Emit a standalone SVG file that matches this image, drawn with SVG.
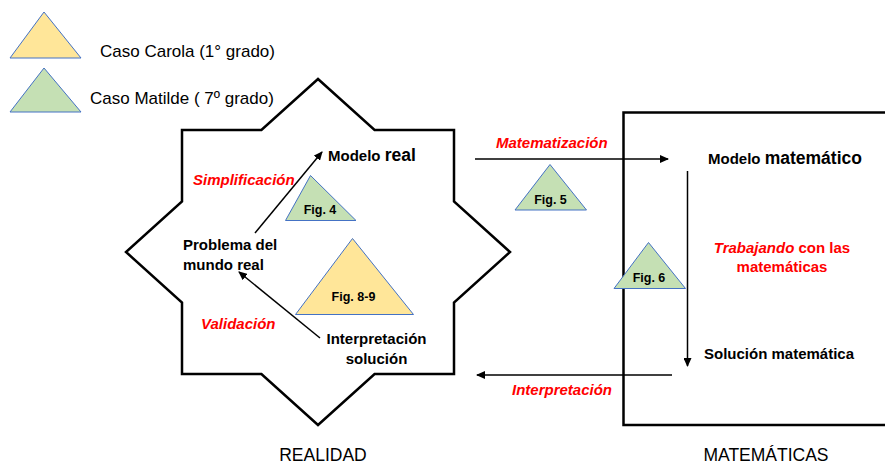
<svg xmlns="http://www.w3.org/2000/svg" width="885" height="464" viewBox="0 0 885 464">
  <style>
    text { font-family: "Liberation Sans", Arial, sans-serif; fill: #000; }
    .b { font-weight: bold; font-size: 15px; }
    .red { font-weight: bold; font-style: italic; font-size: 15px; fill: #FF0000; }
    .reg { font-size: 17.5px; }
    .leg { font-size: 17px; }
    .fig { font-weight: bold; font-size: 12.5px; text-anchor: middle; }
    .tri-y { fill: #FFE699; stroke: #4472C4; stroke-width: 1; }
    .tri-g { fill: #C5E0B4; stroke: #4472C4; stroke-width: 1; }
    .frame { fill: none; stroke: #000; stroke-width: 2.5; }
    .conn { fill: none; stroke: #000; stroke-width: 1.5; }
  </style>
  <defs>
    <marker id="arrow" markerUnits="userSpaceOnUse" markerWidth="9" markerHeight="8" refX="8" refY="4" orient="auto">
      <path d="M0,0 L9,4 L0,8 Z" fill="#000"/>
    </marker>
  </defs>

  <rect width="885" height="464" fill="#fff"/>

  <!-- legend -->
  <g id="legend">
    <polygon class="tri-y" points="44,12 10,58 81,58"/>
    <text class="leg" x="100" y="57">Caso Carola (1° grado)</text>
    <polygon class="tri-g" points="44,68 10,112 81,112"/>
    <text class="leg" x="90" y="104">Caso Matilde ( 7º grado)</text>
  </g>

  <!-- reality region: eight-pointed star -->
  <g id="realidad">
    <polygon class="frame" points="182,130 261.4,130 318,79 374.6,130 454,130 454,201.5 510,252 454,302.5 454,374 374.6,374 318,425 261.4,374 182,374 182,302.5 126,252 182,201.5"/>
    <text class="reg" x="323" y="461" text-anchor="middle">REALIDAD</text>
  </g>

  <!-- mathematics region -->
  <g id="matematicas">
    <polyline class="frame" points="890,112.5 623.5,112.5 623.5,425 890,425" stroke-width="2"/>
    <text class="reg" x="766" y="461" text-anchor="middle">MATEMÁTICAS</text>
  </g>

  <!-- connectors -->
  <g id="connectors">
    <line class="conn" x1="255" y1="233" x2="322" y2="152" marker-end="url(#arrow)"/>
    <line class="conn" x1="320" y1="338" x2="239" y2="272" marker-end="url(#arrow)"/>
    <line class="conn" x1="475" y1="159" x2="668" y2="159" marker-end="url(#arrow)"/>
    <line class="conn" x1="687.5" y1="171" x2="687.5" y2="366" marker-end="url(#arrow)"/>
    <line class="conn" x1="672" y1="375" x2="477" y2="375" marker-end="url(#arrow)"/>
  </g>

  <!-- process labels -->
  <g id="simplificacion"><text class="red" x="193" y="185">Simplificación</text></g>
  <g id="validacion"><text class="red" x="201" y="329">Validación</text></g>
  <g id="matematizacion"><text class="red" x="496" y="148">Matematización</text></g>
  <g id="interpretacion"><text class="red" x="512" y="395">Interpretación</text></g>
  <g id="trabajando">
    <text class="b" x="782" y="252.5" text-anchor="middle" style="fill:#FF0000"><tspan font-style="italic">Trabajando</tspan> con las</text>
    <text class="b" x="782" y="272" text-anchor="middle" style="fill:#FF0000">matemáticas</text>
  </g>

  <!-- nodes -->
  <g id="modelo-real">
    <text class="b" x="328" y="161">Modelo <tspan style="font-size:17.5px">real</tspan></text>
  </g>
  <g id="problema">
    <text class="b" x="183" y="250">Problema del</text>
    <text class="b" x="183" y="269.5">mundo real</text>
  </g>
  <g id="interpretacion-solucion">
    <text class="b" x="376.5" y="343.5" text-anchor="middle">Interpretación</text>
    <text class="b" x="376.5" y="363.5" text-anchor="middle">solución</text>
  </g>
  <g id="modelo-matematico">
    <text class="b" x="708" y="164">Modelo <tspan style="font-size:17.5px">matemático</tspan></text>
  </g>
  <g id="solucion-matematica">
    <text class="b" x="704" y="359">Solución matemática</text>
  </g>

  <!-- figure markers -->
  <g id="fig4">
    <polygon class="tri-g" points="310.5,175.5 285.5,220.5 356,220.5"/>
    <text class="fig" x="320" y="214">Fig. 4</text>
  </g>
  <g id="fig8-9">
    <polygon class="tri-y" points="352.5,238.5 295.5,314.5 413.5,314.5"/>
    <text class="fig" x="353.5" y="300.5">Fig. 8-9</text>
  </g>
  <g id="fig5">
    <polygon class="tri-g" points="550,164.5 515,210 586.5,210"/>
    <text class="fig" x="550.5" y="204">Fig. 5</text>
  </g>
  <g id="fig6">
    <polygon class="tri-g" points="648.5,242.5 614,288.5 685.5,288.5"/>
    <text class="fig" x="649" y="282">Fig. 6</text>
  </g>
</svg>
